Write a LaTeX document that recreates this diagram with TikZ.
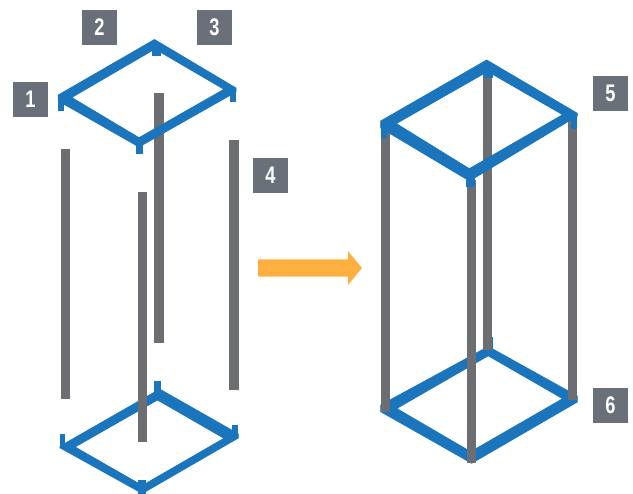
\documentclass[tikz,border=0pt]{standalone}
\usepackage{fontspec}
\setmainfont{Liberation Sans}
\definecolor{frameblue}{HTML}{1B75BC}
\definecolor{poleGray}{HTML}{6D6E71}
\definecolor{tagGray}{HTML}{697079}
\definecolor{arrowOrange}{HTML}{FDB040}
\tikzset{
  beam/.style={fill=frameblue,draw=frameblue,line width=0.7pt,even odd rule},
  tab/.style={fill=frameblue},
  pole/.style={fill=poleGray},
  tag/.style={fill=tagGray,text=white,minimum size=35pt,inner sep=0pt,font=\bfseries\fontsize{24}{24}\selectfont},
}
\newcommand{\tagnum}[1]{\scalebox{0.76}[1]{#1}}
\begin{document}
\begin{tikzpicture}[x=1pt,y=-1pt]
\useasboundingbox (0,0) rectangle (633,494);
\clip (0,0) rectangle (633,494);
% left poles behind the upper frame
\fill[pole] (60.7,149) rectangle (70.3,399);
\fill[pole] (154,93) rectangle (163.7,343);
\fill[pole] (229.3,140) rectangle (239,390.3);
% left upper frame
\path[beam] (154.5,39.5) -- (236,88) -- (236,92) -- (139,147) -- (58.3,101) -- (58.3,95) -- cycle
  (155,49) -- (224,89.3) -- (139,137.7) -- (71.7,97.5) -- cycle;
\fill[tab] (152.3,45) rectangle (160.7,56);
\fill[tab] (230,88) rectangle (236,101.7);
\fill[tab] (136,137) rectangle (143.3,154.3);
\fill[tab] (58.3,95) rectangle (64,111);
% left lower frame
\path[beam] (157.7,390.3) -- (161.3,390) -- (238.3,433.8) -- (238.3,438) -- (142.3,493.5) -- (60,447.8) -- (60,446.2) -- cycle
  (157.5,400) -- (224,438.3) -- (142.3,485.5) -- (75,447) -- cycle;
\fill[tab] (154,381.3) rectangle (161.3,397);
\fill[tab] (232.3,425.3) rectangle (238.3,438);
\fill[tab] (138.3,480) rectangle (146,494);
\fill[tab] (60,434) rectangle (65,447);
% front left pole over lower frame
\fill[pole] (137.7,191.7) rectangle (147.3,441.7);
% right lower frame
\path[beam] (488.3,346.5) -- (577.3,396) -- (577.3,402) -- (471.7,463.3) -- (380.7,411.7) -- (380.7,405) -- cycle
  (488.2,355.8) -- (562.7,398.7) -- (470.7,451.7) -- (396.7,408.5) -- cycle;
\fill[tab] (484,336.7) rectangle (492.5,352);
\fill[tab] (380.7,395) rectangle (387,411.7);
\fill[tab] (571,385) rectangle (577.3,401);
% right poles
\fill[pole] (381,130) rectangle (390,411.7);
\fill[pole] (483.3,70) rectangle (492.3,350);
\fill[pole] (568.3,120) rectangle (577.3,400);
\fill[pole] (467,180) rectangle (476,462.7);
% right upper frame
\path[beam] (486.7,60) -- (577.3,113.3) -- (577.3,116) -- (469.5,181) -- (380.7,128) -- (380.7,121) -- cycle
  (487.7,71.5) -- (562.7,114.7) -- (469.3,168.7) -- (396.3,123.6) -- cycle;
\fill[tab] (484,68) rectangle (493.3,78.3);
\fill[tab] (380.7,121) rectangle (387.3,138.7);
\fill[tab] (570.7,114) rectangle (577.3,129);
\fill[tab] (466,170) rectangle (474.7,186.7);
% arrow
\fill[arrowOrange] (258,259.3) -- (348,259.3) -- (348,251) -- (362,268) -- (348,285) -- (348,276.7) -- (258,276.7) -- cycle;
% tags
\node[tag] (t1) at (30.5,99.5) {\tagnum{1}};
\node[tag] (t2) at (99.5,27.5) {\tagnum{2}};
\node[tag] (t3) at (214.5,27.5) {\tagnum{3}};
\node[tag] (t4) at (270.5,175.5) {\tagnum{4}};
\node[tag] (t5) at (610.5,93.5) {\tagnum{5}};
\node[tag] (t6) at (610.5,405.5) {\tagnum{6}};
\end{tikzpicture}
\end{document}
